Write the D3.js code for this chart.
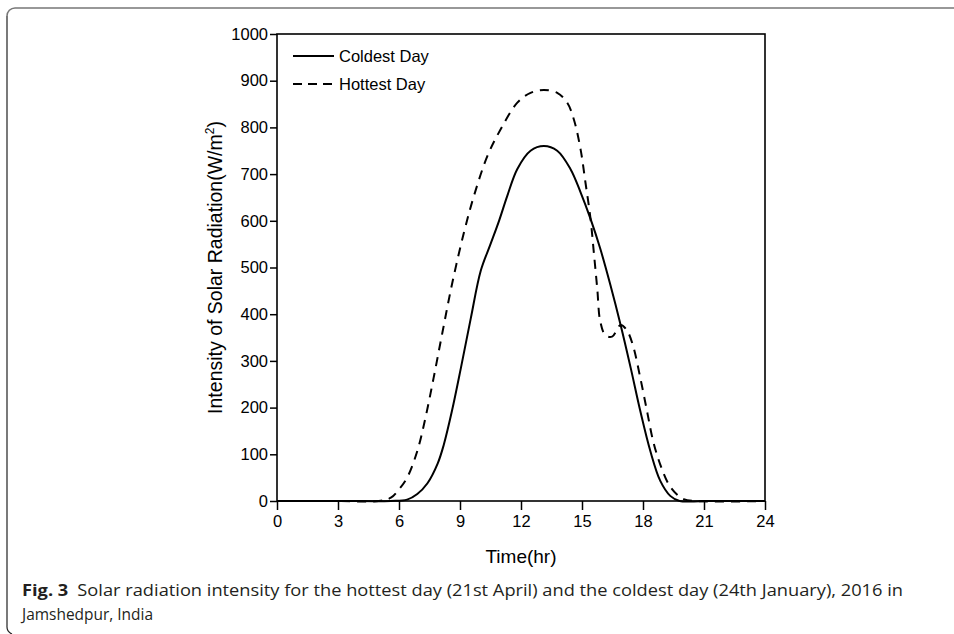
<!DOCTYPE html>
<html>
<head>
<meta charset="utf-8">
<script src="https://cdn.jsdelivr.net/npm/d3@7"></script>
<style>
  html, body { margin: 0; padding: 0; background: #fff; }
  svg { display: block; }
</style>
</head>
<body>
<svg id="chart" width="954" height="634"></svg>
<script>
// Hourly solar radiation readings (W/m²), Jamshedpur 2016
const coldHours = [0, 3, 5.6, 6.4, 6.9, 7.4, 7.9, 8.2, 8.6, 9.04, 9.53, 10.02, 10.5, 10.92, 11.33, 11.82, 12.47, 13.13, 13.78, 14.43, 14.93, 15.42, 15.9, 16.4, 16.9, 17.4, 17.87, 18.36, 18.85, 19.34, 19.8, 21, 24];
const coldValues = [0, 0, 0, 3, 15, 38, 80, 120, 192, 284, 391, 493, 550, 600, 654, 711, 750, 760, 750, 711, 661, 604, 540, 462, 377, 284, 192, 107, 43, 11, 0, 0, 0];

const hotHours = [0, 3, 5.0, 5.6, 6.0, 6.4, 6.9, 7.3, 7.7, 8.14, 8.63, 9.2, 9.69, 10.35, 11.0, 11.82, 12.47, 13.13, 13.78, 14.27, 14.6, 14.93, 15.17, 15.42, 15.58, 15.75, 15.9, 16.15, 16.48, 16.9, 17.2, 17.5, 17.87, 18.2, 18.5, 18.85, 19.26, 19.67, 20.0, 20.5, 24];
const hotValues = [0, 0, 0, 7, 25, 50, 107, 178, 263, 362, 469, 576, 654, 739, 796, 853, 874, 880, 874, 853, 817, 753, 682, 604, 533, 455, 384, 355, 352, 377, 366, 334, 263, 192, 128, 78, 36, 14, 4, 0, 0];

const xTicks = [0, 3, 6, 9, 12, 15, 18, 21, 24];
const yTicks = [0, 100, 200, 300, 400, 500, 600, 700, 800, 900, 1000];
const seriesNames = ["Coldest Day", "Hottest Day"];

const svg = d3.select("#chart");

// Page frame around figure and caption
svg.append("path")
  .attr("d", "M7,16 A8,8 0 0 1 15,8 L954,8")
  .attr("fill", "none").attr("stroke", "#777").attr("stroke-width", 1.5);
svg.append("path")
  .attr("d", "M7,16 L7,626 A8,8 0 0 0 12,634")
  .attr("fill", "none").attr("stroke", "#222").attr("stroke-width", 1.2);

const plot = { left: 277, right: 765, top: 34, bottom: 501 };

const x = d3.scaleLinear().domain([0, 24]).range([plot.left, plot.right]);
const y = d3.scaleLinear().domain([0, 1000]).range([plot.bottom, plot.top]);

const axisFont = "'Liberation Sans', Arial, sans-serif";

// Bottom axis
const gx = svg.append("g")
  .attr("transform", `translate(0,${plot.bottom})`)
  .call(d3.axisBottom(x).tickValues(xTicks).tickSize(9).tickPadding(5).tickFormat(d3.format("d")));
// Left axis
const gy = svg.append("g")
  .attr("transform", `translate(${plot.left},0)`)
  .call(d3.axisLeft(y).tickValues(yTicks).tickSize(7).tickPadding(2).tickFormat(d3.format("d")));

[gx, gy].forEach(g => {
  g.select(".domain").remove();
  g.selectAll(".tick line").attr("stroke", "#000").attr("stroke-width", 1.5);
  g.selectAll(".tick text")
    .attr("fill", "#000")
    .style("font-family", axisFont)
    .style("font-size", "16.5px");
});

// Plot border
svg.append("rect")
  .attr("x", plot.left).attr("y", plot.top)
  .attr("width", plot.right - plot.left).attr("height", plot.bottom - plot.top)
  .attr("fill", "none").attr("stroke", "#000").attr("stroke-width", 1.6);

// Axis titles
svg.append("text")
  .attr("x", (plot.left + plot.right) / 2).attr("y", 563)
  .attr("text-anchor", "middle")
  .style("font-family", axisFont).style("font-size", "19px")
  .text("Time(hr)");

const yTitle = svg.append("text")
  .attr("transform", `translate(222,${(plot.top + plot.bottom) / 2}) rotate(-90)`)
  .attr("text-anchor", "middle")
  .style("font-family", axisFont).style("font-size", "19.5px");
yTitle.append("tspan").text("Intensity of Solar Radiation(W/m");
yTitle.append("tspan").attr("dy", -8).style("font-size", "12px").text("2");
yTitle.append("tspan").attr("dy", 8).text(")");

// Curves
const line = d3.line()
  .x(d => x(d[0]))
  .y(d => y(Math.max(0, d[1])))
  .curve(d3.curveCatmullRom.alpha(0.5));

const coldData = d3.zip(coldHours, coldValues);
const hotData = d3.zip(hotHours, hotValues);

svg.append("path")
  .datum(coldData)
  .attr("d", line)
  .attr("fill", "none").attr("stroke", "#000").attr("stroke-width", 2);

svg.append("path")
  .datum(hotData)
  .attr("d", line)
  .attr("fill", "none").attr("stroke", "#000").attr("stroke-width", 2)
  .attr("stroke-dasharray", "9,7");

// Legend
const legend = svg.append("g");
const legendItems = [
  { name: seriesNames[0], dash: null, y: 56 },
  { name: seriesNames[1], dash: "9,6", y: 84 }
];
legendItems.forEach(it => {
  legend.append("line")
    .attr("x1", 293).attr("x2", 334).attr("y1", it.y).attr("y2", it.y)
    .attr("stroke", "#000").attr("stroke-width", 2)
    .attr("stroke-dasharray", it.dash);
  legend.append("text")
    .attr("x", 339).attr("y", it.y + 6)
    .style("font-family", axisFont).style("font-size", "16.5px")
    .text(it.name);
});

// Caption
const capFont = "'Open Sans', 'Noto Sans', sans-serif";
const cap1 = svg.append("text")
  .attr("x", 22).attr("y", 596)
  .attr("textLength", 881).attr("lengthAdjust", "spacingAndGlyphs")
  .style("font-family", capFont).style("font-size", "16.5px").attr("fill", "#231f20");
cap1.append("tspan").style("font-weight", "bold").text("Fig. 3");
cap1.append("tspan").text("\u2002Solar radiation intensity for the hottest day (21st April) and the coldest day (24th January), 2016 in");

svg.append("text")
  .attr("x", 22).attr("y", 620)
  .attr("textLength", 131).attr("lengthAdjust", "spacingAndGlyphs")
  .style("font-family", capFont).style("font-size", "16.5px").attr("fill", "#231f20")
  .text("Jamshedpur, India");
</script>
</body>
</html>
